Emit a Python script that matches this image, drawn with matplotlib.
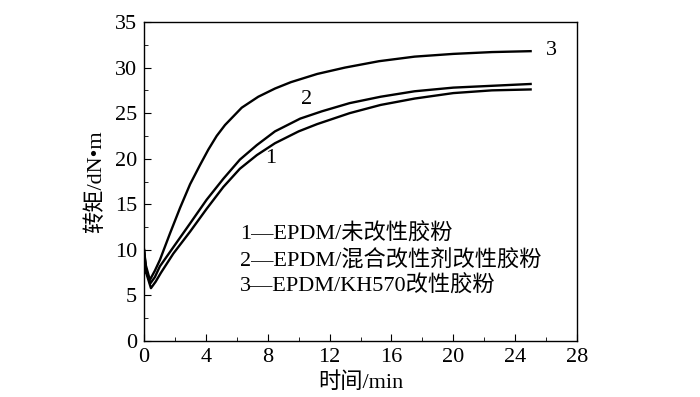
import matplotlib
matplotlib.use("Agg")
import matplotlib.pyplot as plt
from matplotlib.ticker import MultipleLocator

plt.rcParams['font.family'] = ['Liberation Serif', 'Noto Sans CJK SC']

x1 = [0, 0.12, 0.45, 0.75, 1.1, 1.9, 2.98, 4.05, 5.13, 6.2, 7.3, 8.47, 10.0, 11.2, 13.3, 15.3, 17.5, 20, 22.5, 25]
y1 = [10.0, 7.6, 5.8, 6.5, 7.5, 9.6, 12.0, 14.5, 16.9, 18.9, 20.4, 21.7, 23.0, 23.8, 25.0, 25.9, 26.6, 27.2, 27.5, 27.6]

x2 = [0, 0.12, 0.4, 0.7, 1.03, 1.9, 2.98, 4.05, 5.13, 6.2, 7.3, 8.47, 10.1, 11.5, 13.3, 15.3, 17.5, 20, 22.5, 25]
y2 = [10.0, 8.0, 6.3, 7.0, 8.2, 10.3, 12.9, 15.5, 17.8, 19.9, 21.5, 23.0, 24.4, 25.2, 26.1, 26.8, 27.4, 27.8, 28.0, 28.2]

x3 = [0, 0.12, 0.38, 0.7, 1.03, 1.68, 2.33, 2.98, 3.62, 4.16, 4.7, 5.24, 6.32, 7.39, 8.47, 9.5, 11.2, 13.0, 15.2, 17.5, 20, 22.5, 25]
y3 = [10.0, 8.3, 6.7, 7.7, 8.9, 11.8, 14.6, 17.2, 19.3, 21.0, 22.5, 23.7, 25.6, 26.8, 27.7, 28.4, 29.3, 30.0, 30.7, 31.2, 31.5, 31.7, 31.8]

legend_lines = ["1—EPDM/未改性胶粉", "2—EPDM/混合改性剂改性胶粉", "3—EPDM/KH570改性胶粉"]

fig = plt.figure(figsize=(7, 3.97), dpi=100)
ax = fig.add_axes([0.2057, 0.141, 0.6186, 0.8036])

for xs, ys in [(x1, y1), (x2, y2), (x3, y3)]:
    ax.plot(xs, ys, color='black', lw=1.7, solid_joinstyle='round')

ax.set_xlim(0, 28)
ax.set_ylim(0, 35)
ax.xaxis.set_major_locator(MultipleLocator(4))
ax.xaxis.set_minor_locator(MultipleLocator(2))
ax.yaxis.set_major_locator(MultipleLocator(5))
ax.yaxis.set_minor_locator(MultipleLocator(2.5))
ax.tick_params(which='both', direction='in', top=False, right=False, labelsize=16)
ax.tick_params(which='major', length=5, pad=5)
ax.tick_params(which='minor', length=3)
for s in ax.spines.values():
    s.set_linewidth(1.0)

ax.set_xlabel("时间/min", fontsize=16, labelpad=4)
ax.set_ylabel("转矩/dN•m", fontsize=16, labelpad=6)

ax.text(26.0, 31.9, "3", fontsize=16, va='center', ha='left')
ax.text(10.5, 26.5, "2", fontsize=16, va='center', ha='center')
ax.text(8.2, 20.0, "1", fontsize=16, va='center', ha='center')

for i, t in enumerate(legend_lines):
    ax.text(6.2, 11.7 - i * 2.85, t, fontsize=16, va='center', ha='left')

fig.savefig("out.png", dpi=100)
